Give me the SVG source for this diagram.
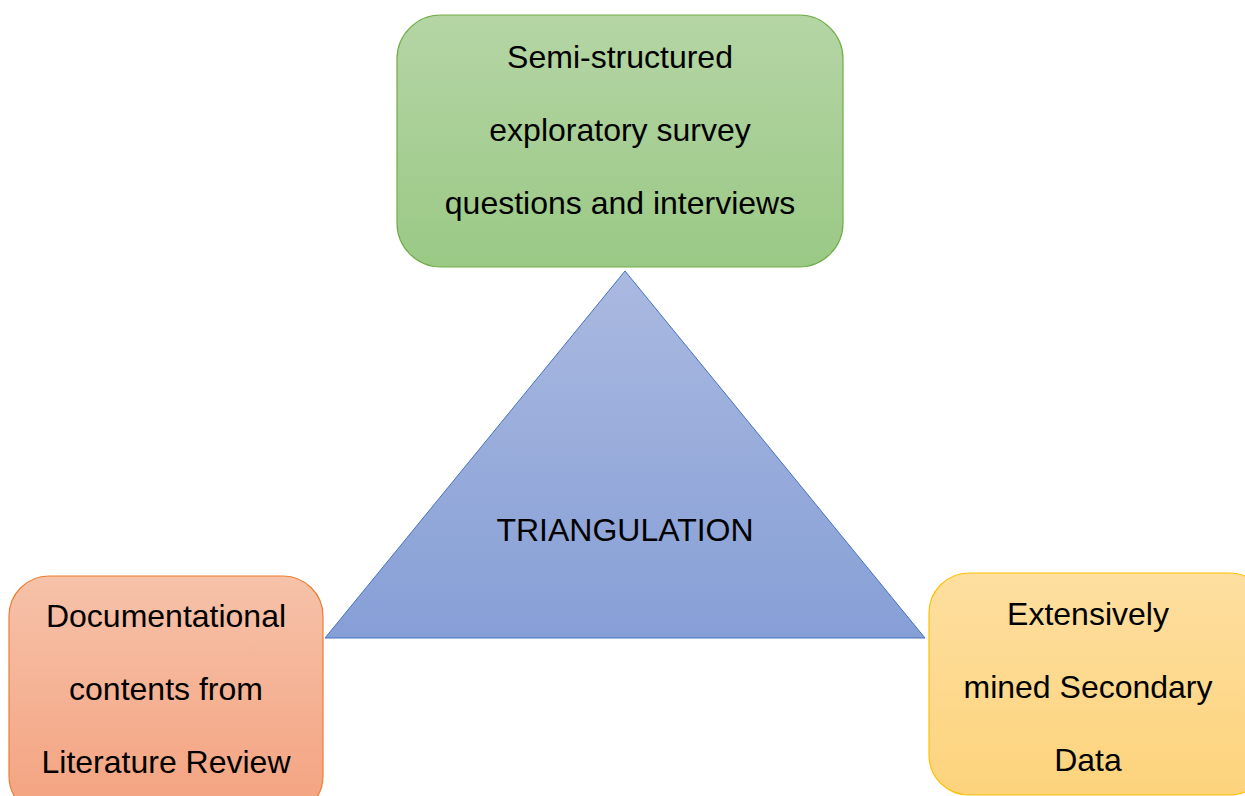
<svg xmlns="http://www.w3.org/2000/svg" width="1245" height="796" viewBox="0 0 1245 796">
  <defs>
    <linearGradient id="gGreen" x1="0" y1="0" x2="0" y2="1">
      <stop offset="0" stop-color="#b5d5a5"/>
      <stop offset="1" stop-color="#9ac985"/>
    </linearGradient>
    <linearGradient id="gOrange" x1="0" y1="0" x2="0" y2="1">
      <stop offset="0" stop-color="#f6c2a9"/>
      <stop offset="1" stop-color="#f4a27f"/>
    </linearGradient>
    <linearGradient id="gYellow" x1="0" y1="0" x2="0" y2="1">
      <stop offset="0" stop-color="#fedfa0"/>
      <stop offset="1" stop-color="#fdd37c"/>
    </linearGradient>
    <linearGradient id="gBlue" x1="0" y1="0" x2="0" y2="1">
      <stop offset="0" stop-color="#aab9e0"/>
      <stop offset="1" stop-color="#869fd6"/>
    </linearGradient>
  </defs>
  <style>
    .t { font-family: "Liberation Sans", Arial, sans-serif; font-size: 32px; fill: #000; text-anchor: middle; }
  </style>
  <rect width="1245" height="796" fill="#ffffff"/>
  <g id="connectors"></g>
  <g id="node-triangle">
    <polygon points="625,271 325,638 925,638" fill="url(#gBlue)" stroke="#4472c4" stroke-width="1"/>
    <text class="t" x="625" y="541">TRIANGULATION</text>
  </g>
  <g id="node-survey">
    <rect x="397" y="15" width="446" height="252" rx="44" ry="44" fill="url(#gGreen)" stroke="#70ad47" stroke-width="1.2"/>
    <text class="t" x="620" y="68">Semi-structured</text>
    <text class="t" x="620" y="141">exploratory survey</text>
    <text class="t" x="620" y="214">questions and interviews</text>
  </g>
  <g id="node-literature">
    <rect x="9" y="576" width="314" height="240" rx="40" ry="40" fill="url(#gOrange)" stroke="#ed7d31" stroke-width="1.2"/>
    <text class="t" x="166" y="627">Documentational</text>
    <text class="t" x="166" y="700">contents from</text>
    <text class="t" x="166" y="773">Literature Review</text>
  </g>
  <g id="node-secondary">
    <rect x="929" y="573" width="340" height="222" rx="40" ry="40" fill="url(#gYellow)" stroke="#ffc000" stroke-width="1.2"/>
    <text class="t" x="1088" y="625">Extensively</text>
    <text class="t" x="1088" y="698">mined Secondary</text>
    <text class="t" x="1088" y="771">Data</text>
  </g>
</svg>
